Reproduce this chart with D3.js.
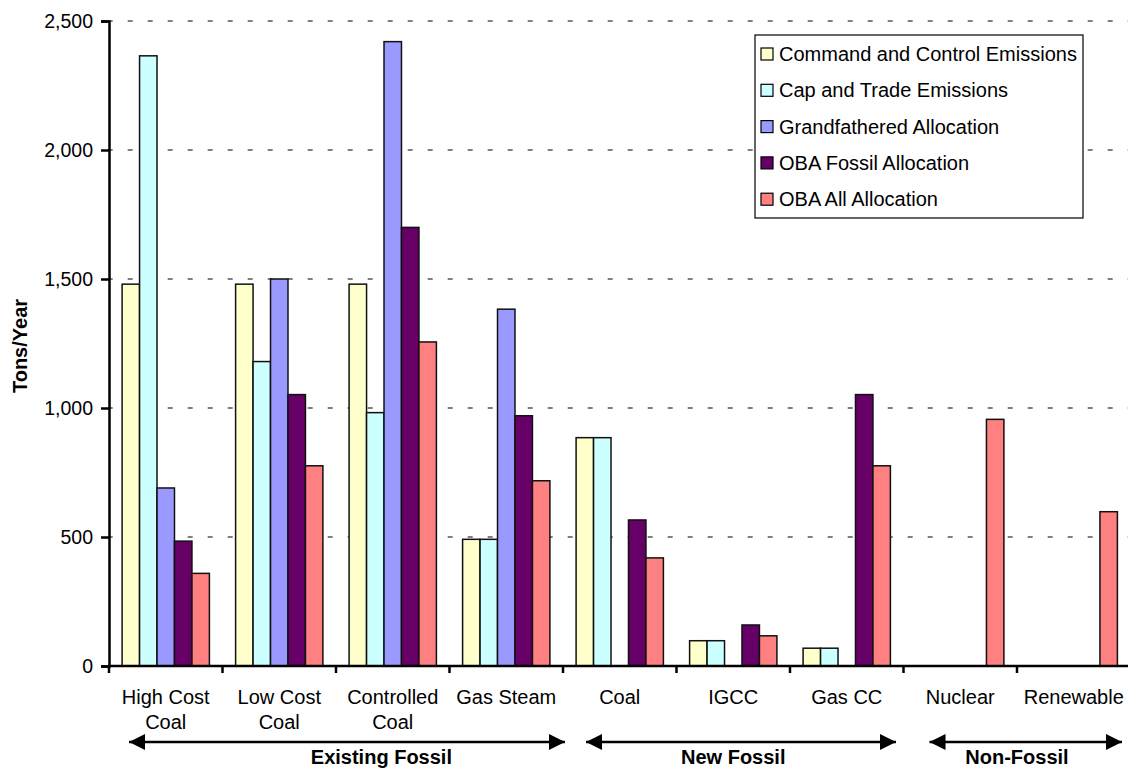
<!DOCTYPE html>
<html>
<head>
<meta charset="utf-8">
<script src="https://cdn.jsdelivr.net/npm/d3@7"></script>
<style>
  html, body { margin: 0; padding: 0; background: #fff; }
  svg { display: block; font-family: "Liberation Sans", Arial, sans-serif; }
</style>
</head>
<body>
<svg id="chart" width="1128" height="770"></svg>
<script>
// Generation technologies along the x axis
const categories = ["High Cost Coal", "Low Cost Coal", "Controlled Coal", "Gas Steam",
                    "Coal", "IGCC", "Gas CC", "Nuclear", "Renewable"];
const categoryLabels = [["High Cost", "Coal"], ["Low Cost", "Coal"], ["Controlled", "Coal"],
                        ["Gas Steam"], ["Coal"], ["IGCC"], ["Gas CC"], ["Nuclear"], ["Renewable"]];

// Series (tons/year); null = no bar
const seriesNames = ["Command and Control Emissions", "Cap and Trade Emissions",
                     "Grandfathered Allocation", "OBA Fossil Allocation", "OBA All Allocation"];
const commandControl = [1480, 1480, 1480, 491, 885, 98, 69, null, null];
const capTrade       = [2365, 1180, 982, 491, 885, 98, 69, null, null];
const grandfathered  = [690, 1500, 2420, 1383, null, null, null, null, null];
const obaFossil      = [484, 1052, 1700, 970, 566, 159, 1052, null, null];
const obaAll         = [359, 776, 1256, 718, 419, 117, 776, 956, 598];
const seriesColors   = ["#FFFFCC", "#CCFFFF", "#9999FF", "#660066", "#FF8080"];

// Y axis ticks
const yTicks = [0, 500, 1000, 1500, 2000, 2500];

// Technology groups shown with arrows below the axis
const groupNames = ["Existing Fossil", "New Fossil", "Non-Fossil"];
const groupFirst = [0, 4, 7];
const groupLast  = [3, 6, 8];

const seriesValues = [commandControl, capTrade, grandfathered, obaFossil, obaAll];

const svg = d3.select("#chart");
const plotLeft = 109, plotRight = 1130.5, plotTop = 21, plotBottom = 666;

const x = d3.scaleBand().domain(categories).range([plotLeft, plotRight]).padding(0);
const xs = d3.scaleBand().domain(d3.range(seriesNames.length))
  .range([0, x.bandwidth()]).paddingInner(0).paddingOuter(0.75);
const y = d3.scaleLinear().domain([0, 2500]).range([plotBottom, plotTop]);

// Dashed gridlines
svg.append("g")
  .selectAll("line")
  .data(yTicks.filter(d => d > 0))
  .join("line")
  .attr("x1", plotLeft).attr("x2", 1128)
  .attr("y1", d => y(d)).attr("y2", d => y(d))
  .attr("stroke", "#555")
  .attr("stroke-width", 1.3)
  .attr("stroke-dasharray", "5,15")
  .attr("stroke-dashoffset", 1.3);

// Bars
const barData = [];
categories.forEach((c, ci) => {
  seriesValues.forEach((vals, si) => {
    if (vals[ci] != null) barData.push({ c, si, v: vals[ci] });
  });
});
svg.append("g")
  .selectAll("rect")
  .data(barData)
  .join("rect")
  .attr("x", d => x(d.c) + xs(d.si))
  .attr("width", xs.bandwidth())
  .attr("y", d => y(d.v))
  .attr("height", d => y(0) - y(d.v))
  .attr("fill", d => seriesColors[d.si])
  .attr("stroke", "#111")
  .attr("stroke-width", 1.5);

// Y axis
const yAxis = svg.append("g")
  .attr("transform", `translate(${plotLeft},0)`)
  .call(d3.axisLeft(y).tickValues(yTicks).tickFormat(d3.format(",")).tickSize(8).tickPadding(8));
yAxis.select(".domain").attr("stroke", "#000").attr("stroke-width", 2.5);
yAxis.selectAll(".tick line").attr("stroke", "#000").attr("stroke-width", 2.5);
yAxis.selectAll(".tick text")
  .attr("font-size", 19.5).attr("fill", "#000")
  .attr("font-family", "'Liberation Sans', Arial, sans-serif");

// X axis line and category separators
const xAxis = svg.append("g");
xAxis.append("line")
  .attr("x1", plotLeft - 1).attr("x2", 1128)
  .attr("y1", plotBottom).attr("y2", plotBottom)
  .attr("stroke", "#000").attr("stroke-width", 2.5);
xAxis.selectAll("line.sep")
  .data(categories.map(c => x(c)).concat([plotRight]))
  .join("line")
  .attr("class", "sep")
  .attr("x1", d => d).attr("x2", d => d)
  .attr("y1", plotBottom).attr("y2", plotBottom + 7)
  .attr("stroke", "#000").attr("stroke-width", 2.5);

// Category labels
const catText = svg.append("g")
  .selectAll("text")
  .data(categories)
  .join("text")
  .attr("x", d => x(d) + x.bandwidth() / 2)
  .attr("y", 704)
  .attr("text-anchor", "middle")
  .attr("font-size", 20)
  .attr("fill", "#000");
catText.selectAll("tspan")
  .data((d, i) => categoryLabels[i])
  .join("tspan")
  .attr("x", function() { return d3.select(this.parentNode).attr("x"); })
  .attr("dy", (d, i) => i === 0 ? 0 : 25)
  .text(d => d);

// Y axis title
svg.append("text")
  .attr("transform", "translate(27,346) rotate(-90)")
  .attr("text-anchor", "middle")
  .attr("font-size", 20)
  .attr("font-weight", "bold")
  .attr("fill", "#000")
  .text("Tons/Year");

// Group arrows
const defs = svg.append("defs");
["start", "end"].forEach(k => {
  defs.append("marker")
    .attr("id", "arrow-" + k)
    .attr("viewBox", "0 0 16 16")
    .attr("refX", k === "end" ? 16 : 0).attr("refY", 8)
    .attr("markerWidth", 16).attr("markerHeight", 16)
    .attr("markerUnits", "userSpaceOnUse")
    .attr("orient", "auto")
    .append("path")
    .attr("d", k === "end" ? "M0,0 L16,8 L0,16 Z" : "M16,0 L0,8 L16,16 Z")
    .attr("fill", "#000");
});

const arrowY = 742;
const arrowInsetL = [20, 23, 26];
const arrowInsetR = [-2, 7.5, 8.5];
const labelPos = [2.4, 5.5, 8.0];
const groups = svg.append("g");
groupNames.forEach((g, i) => {
  const x0 = x(categories[groupFirst[i]]) + arrowInsetL[i];
  const x1 = x(categories[groupLast[i]]) + x.bandwidth() - arrowInsetR[i];
  groups.append("line")
    .attr("x1", x0).attr("x2", x1)
    .attr("y1", arrowY).attr("y2", arrowY)
    .attr("stroke", "#000").attr("stroke-width", 2.5)
    .attr("marker-start", "url(#arrow-start)")
    .attr("marker-end", "url(#arrow-end)");
  groups.append("text")
    .attr("x", plotLeft + labelPos[i] * x.step())
    .attr("y", 764)
    .attr("text-anchor", "middle")
    .attr("font-size", 20)
    .attr("font-weight", "bold")
    .attr("fill", "#000")
    .text(g);
});

// Legend
const legend = svg.append("g").attr("transform", "translate(755,35)");
legend.append("rect")
  .attr("x", 0).attr("y", 0).attr("width", 328).attr("height", 183)
  .attr("fill", "#fff").attr("stroke", "#000").attr("stroke-width", 1.2);
const items = legend.selectAll("g.item")
  .data(seriesNames)
  .join("g")
  .attr("class", "item")
  .attr("transform", (d, i) => `translate(0,${19 + i * 36.3})`);
items.append("rect")
  .attr("x", 6).attr("y", -6).attr("width", 12).attr("height", 12)
  .attr("fill", (d, i) => seriesColors[i])
  .attr("stroke", "#000").attr("stroke-width", 1.2);
items.append("text")
  .attr("x", 24).attr("y", 7)
  .attr("font-size", 20)
  .attr("fill", "#000")
  .text(d => d);
</script>
</body>
</html>
